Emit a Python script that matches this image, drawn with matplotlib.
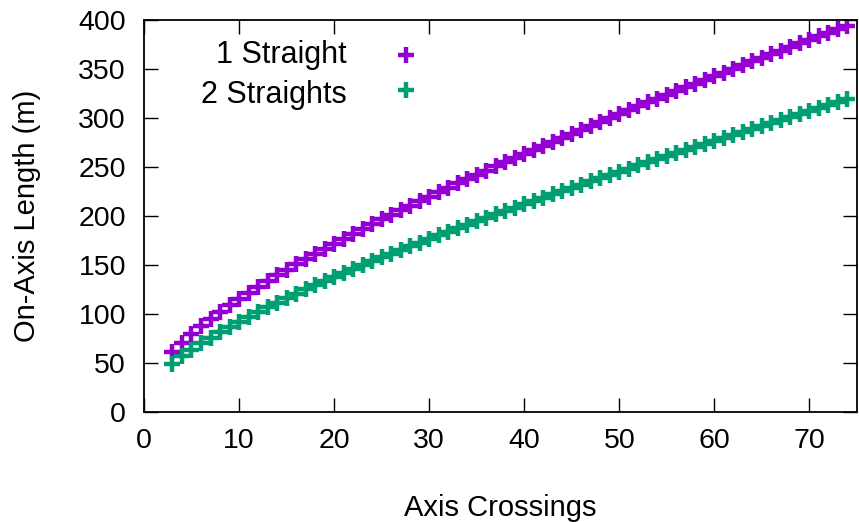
import matplotlib
matplotlib.use("Agg")
import matplotlib.pyplot as plt

plt.rcParams["font.family"] = ["Liberation Sans", "DejaVu Sans"]

# axis crossings
crossings = list(range(3, 75))

# on-axis length (m)
one_straight = [
    61.0, 70.5, 79.1, 87.1, 94.6, 101.7, 108.5, 115.0, 121.3, 127.4,
    133.4, 139.2, 144.8, 150.4, 155.8, 161.1, 166.4, 171.5, 176.6, 181.6,
    186.5, 191.4, 196.2, 201.0, 205.7, 210.3, 214.9, 219.5, 224.0, 228.5,
    232.9, 237.3, 241.7, 246.0, 250.3, 254.6, 258.8, 263.0, 267.2, 271.3,
    275.5, 279.6, 283.6, 287.7, 291.7, 295.7, 299.7, 303.7, 307.6, 311.6,
    315.5, 319.3, 323.2, 327.1, 330.9, 334.7, 338.6, 342.3, 346.1, 349.9,
    353.6, 357.4, 361.1, 364.8, 368.5, 372.2, 375.8, 379.5, 383.1, 386.8,
    390.4, 394.0,
]
two_straights = [
    49.0, 56.5, 63.4, 69.7, 75.7, 81.4, 86.8, 92.0, 97.1, 102.0,
    106.8, 111.4, 116.0, 120.4, 124.8, 129.1, 133.3, 137.5, 141.6, 145.6,
    149.6, 153.6, 157.5, 161.3, 165.1, 168.9, 172.6, 176.3, 180.0, 183.6,
    187.2, 190.8, 194.3, 197.9, 201.4, 204.8, 208.3, 211.7, 215.1, 218.5,
    221.9, 225.2, 228.5, 231.8, 235.1, 238.4, 241.7, 244.9, 248.1, 251.4,
    254.5, 257.7, 260.9, 264.1, 267.2, 270.3, 273.4, 276.6, 279.6, 282.7,
    285.8, 288.9, 291.9, 294.9, 298.0, 301.0, 304.0, 307.0, 310.0, 313.0,
    316.0, 318.9,
]
labels = ["1 Straight", "2 Straights"]
colors = ["#9400D3", "#009E73"]

fs = 20.5

fig = plt.figure(figsize=(8.59, 5.22), dpi=100)
ax = fig.add_axes([0.1676, 0.2113, 0.830, 0.751])

for ys, c in zip([one_straight, two_straights], colors):
    ax.plot(crossings, ys, linestyle="none", marker="+", markersize=11,
            markeredgewidth=3.2, color=c)

ax.set_xlim(0, 75)
ax.set_ylim(0, 400)
ax.set_xticks(range(0, 80, 10))
ax.set_yticks(range(0, 450, 50))
ax.tick_params(direction="in", length=10, width=1, labelsize=fs,
               top=True, right=True)
ax.tick_params(axis="x", pad=12)
ax.tick_params(axis="y", pad=13)
for s in ax.spines.values():
    s.set_linewidth(1.3)

ax.set_xlabel("Axis Crossings", fontsize=fs + 0.5)
ax.xaxis.set_label_coords(0.5, -0.21)
ax.set_ylabel("On-Axis Length (m)", fontsize=fs + 0.5, va="center")
ax.yaxis.set_label_coords(-0.164, 0.5)

# key, gnuplot style: text then sample
key_text_y = [0.8895, 0.788]
key_mark_y = [0.910, 0.8207]
for lab, c, ty, my in zip(labels, colors, key_text_y, key_mark_y):
    ax.text(0.2847, ty, lab, transform=ax.transAxes, ha="right",
            va="baseline", fontsize=fs + 1.5)
    ax.plot([0.3675], [my], transform=ax.transAxes, marker="+",
            markersize=11, markeredgewidth=3.2, color=c, clip_on=False)

fig.savefig("out.png", dpi=100)
